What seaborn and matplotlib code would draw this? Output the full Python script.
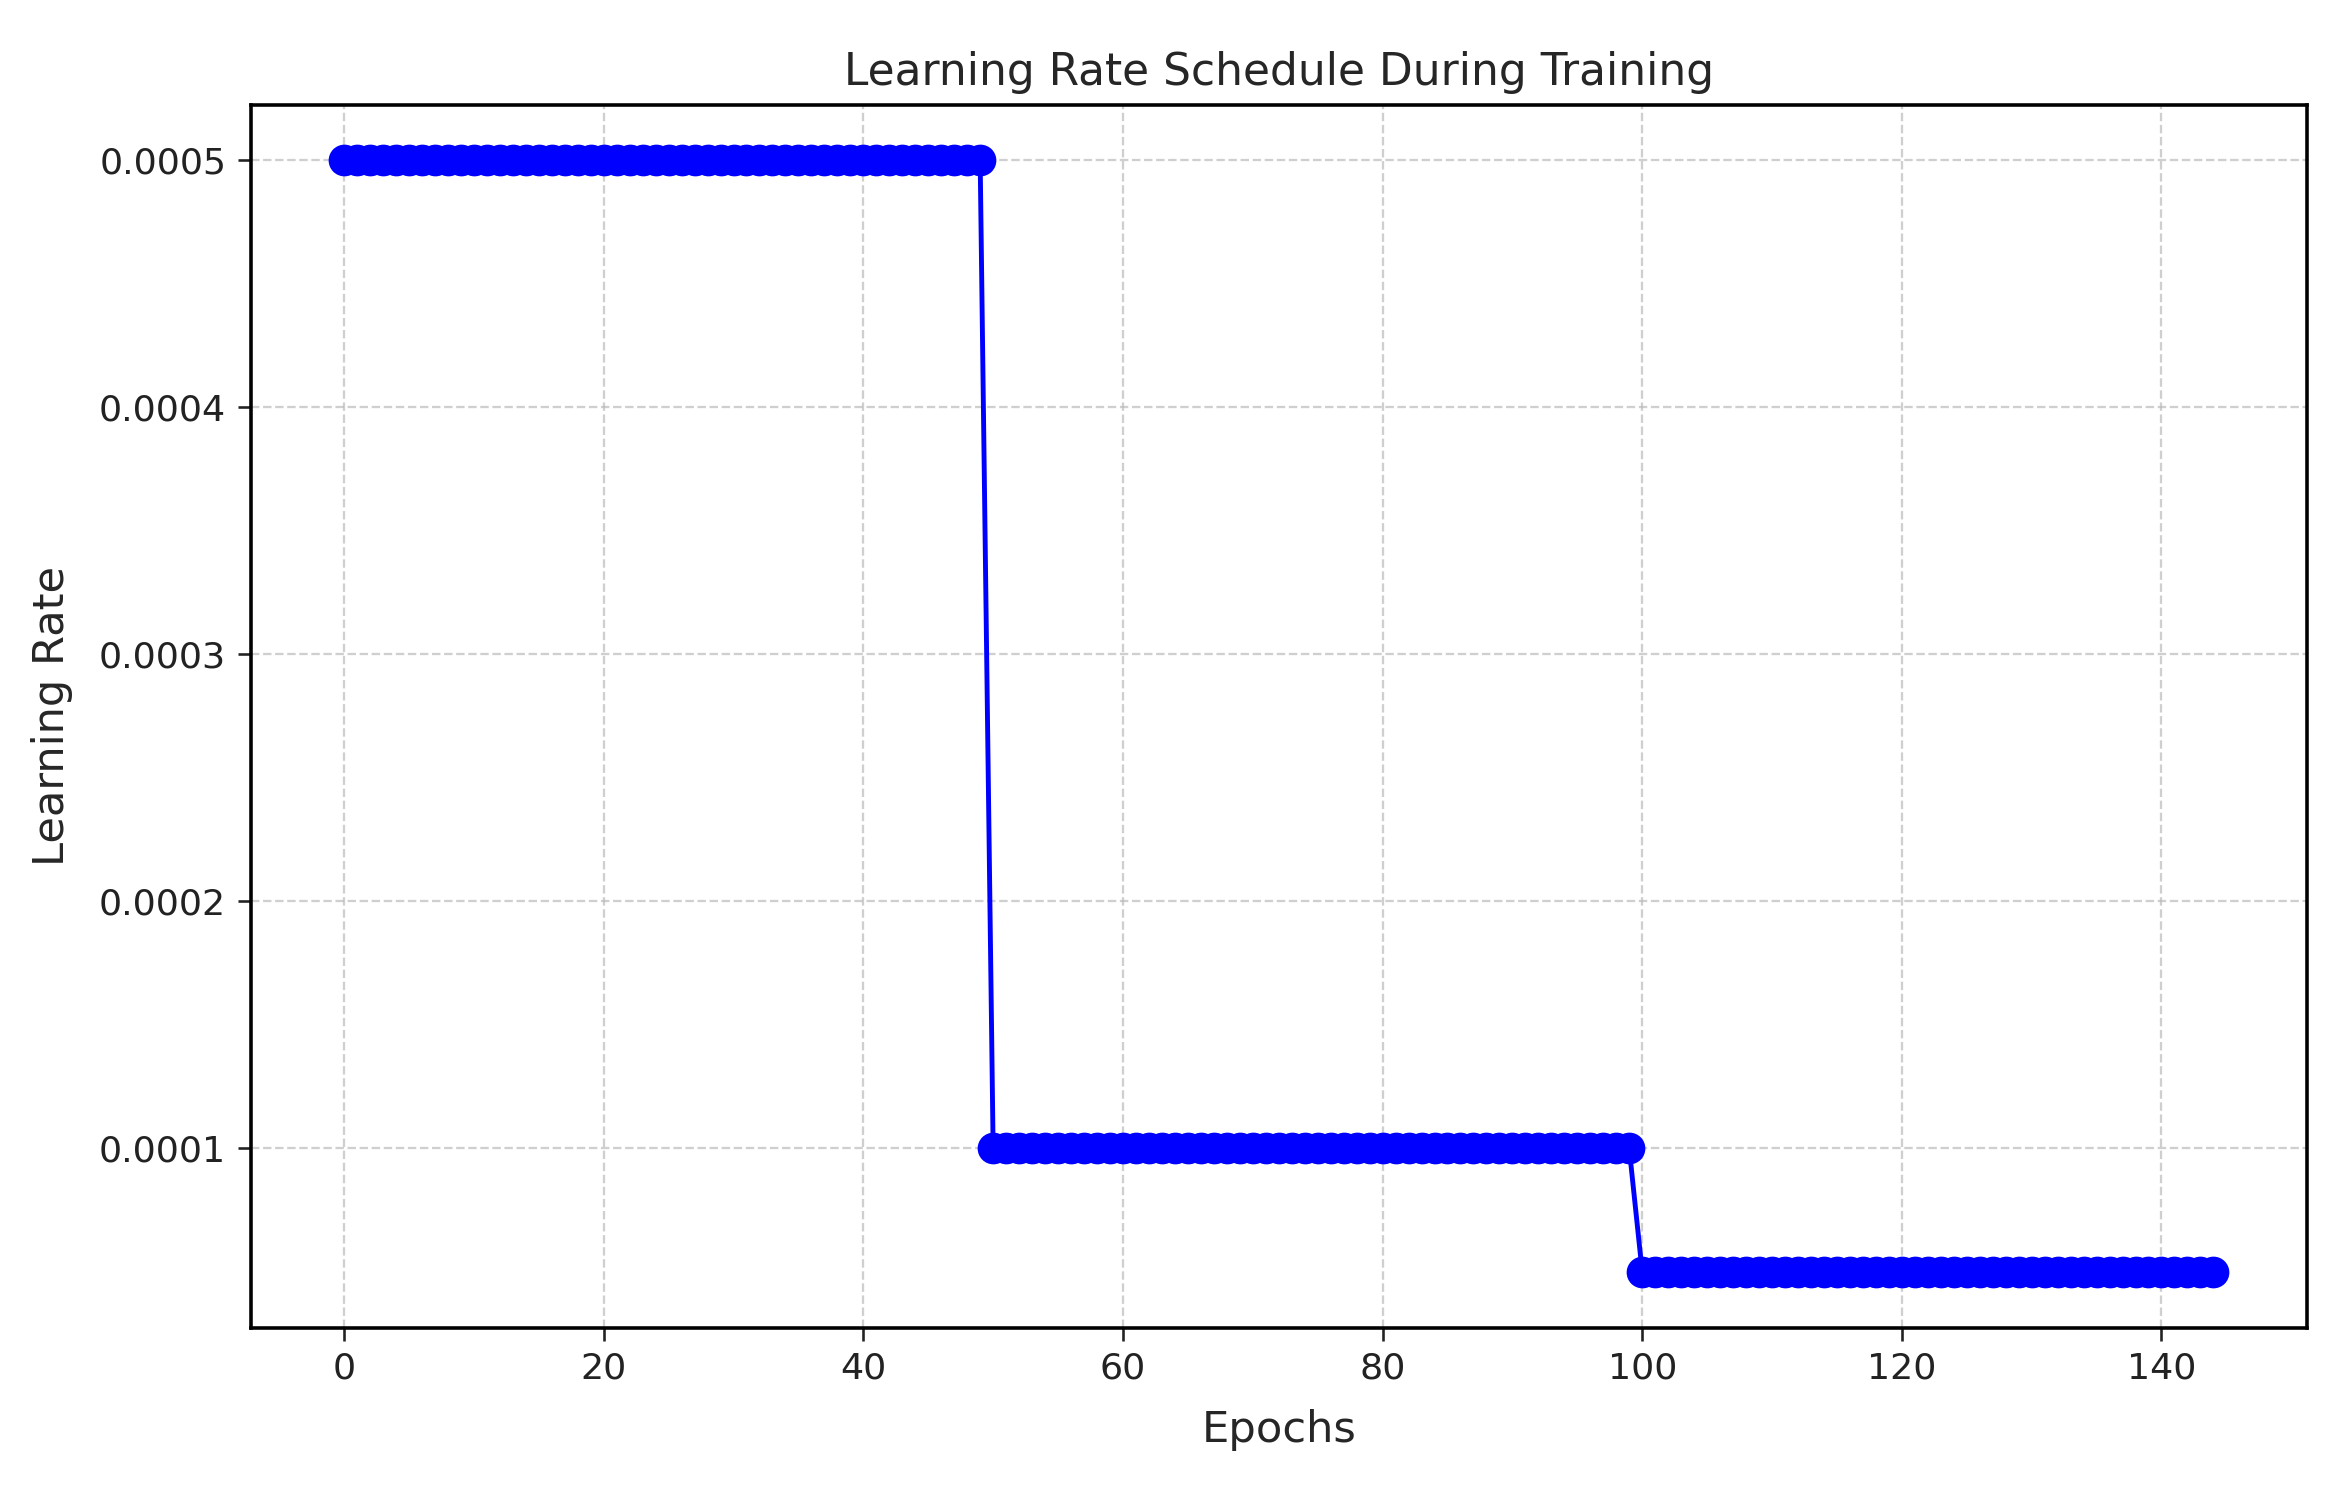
# Learning rate schedule plot: step decay at epochs 50 and 100
import pandas as pd
import seaborn as sns
import matplotlib.pyplot as plt

# learning rate used at each epoch
phase_lengths = [50, 50, 45]
phase_rates = [0.0005, 0.0001, 0.00005]

epochs = list(range(sum(phase_lengths)))
learning_rates = []
for n, lr in zip(phase_lengths, phase_rates):
    learning_rates += [lr] * n

df = pd.DataFrame({"Epoch": epochs, "Learning Rate": learning_rates})

sns.set_style("ticks")
plt.rcParams["font.family"] = ["DejaVu Sans"]

fig, ax = plt.subplots(figsize=(10, 6.3835), dpi=234.2)

sns.lineplot(data=df, x="Epoch", y="Learning Rate", marker="o",
             color="blue", markersize=9, markeredgecolor="blue",
             linewidth=1.5, ax=ax)

ax.set_title("Learning Rate Schedule During Training", fontsize=13.5)
ax.set_xlabel("Epochs", fontsize=13.3, labelpad=7)
ax.set_ylabel("Learning Rate", fontsize=13.3, labelpad=8)
ax.set_yticks([0.0001, 0.0002, 0.0003, 0.0004, 0.0005])
ax.set_yticklabels(["0.0001", "0.0002", "0.0003", "0.0004", "0.0005"])
ax.tick_params(labelsize=11.2, colors="#222222", length=4)
ax.grid(True, linestyle="--", linewidth=0.7, color="#bbbbbb", alpha=0.7)
for spine in ax.spines.values():
    spine.set_visible(True)
    spine.set_color("black")
    spine.set_linewidth(1.1)

plt.subplots_adjust(left=0.107, right=0.985, top=0.930, bottom=0.112)
plt.savefig("out.png", dpi=234.2)
